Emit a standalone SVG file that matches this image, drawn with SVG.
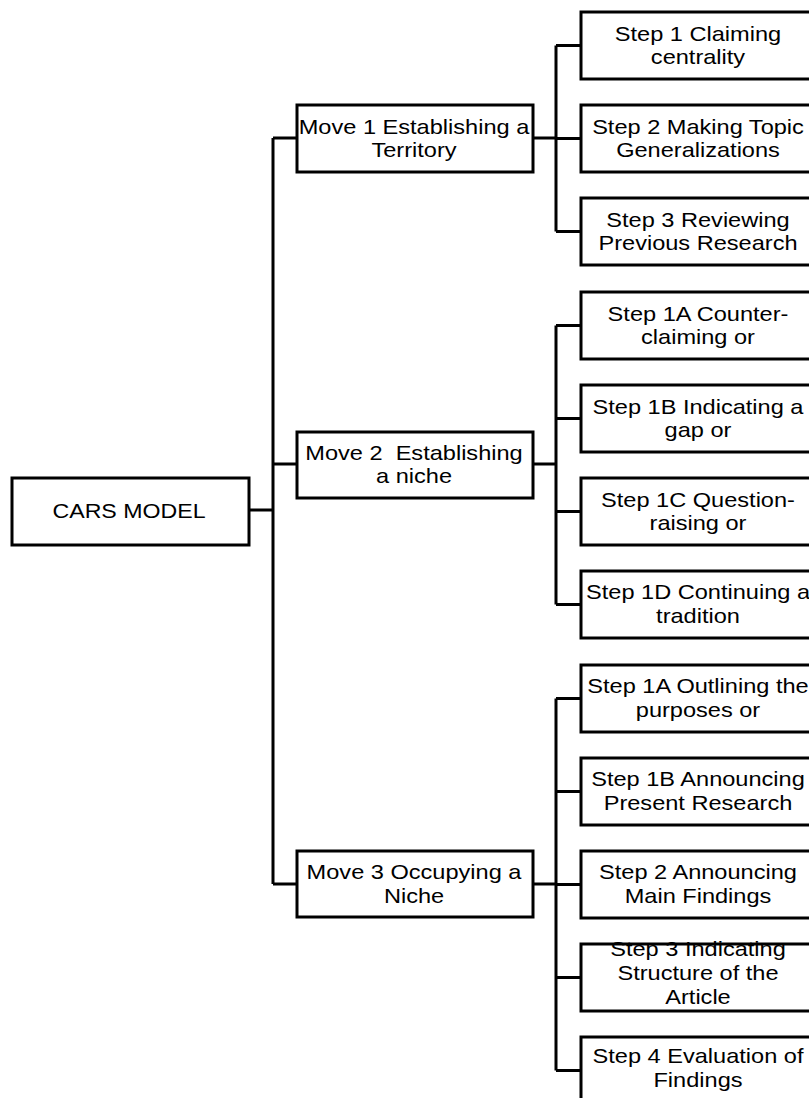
<svg xmlns="http://www.w3.org/2000/svg" width="809" height="1098" viewBox="0 0 809 1098">
<style>
.box{fill:#fff;stroke:#000;stroke-width:3}
.ln{fill:none;stroke:#000;stroke-width:3}
.t{font-family:"Liberation Sans",Arial,sans-serif;font-size:20.5px;fill:#000;text-anchor:middle}
</style>
<rect width="809" height="1098" fill="#fff"/>
<g id="connectors">
<path class="ln" d="M249 510H273M273 138V884M273 138H297M273 464H297M273 884H297"/>
<path class="ln" d="M533 138H556M556 45.5V231.5M556 45.5H581M556 138.5H581M556 231.5H581"/>
<path class="ln" d="M533 464H556M556 325.5V604.5M556 325.5H581M556 418.5H581M556 511.5H581M556 604.5H581"/>
<path class="ln" d="M533 884H556M556 698.5V1070.5M556 698.5H581M556 791.5H581M556 884.5H581M556 977.5H581M556 1070.5H581"/>
</g>
<g id="cars"><rect class="box" x="12" y="478" width="237" height="67"/>
<text class="t" transform="translate(129,0) scale(1.13,1)"><tspan x="0" y="518">CARS MODEL</tspan></text></g>
<g id="move1"><rect class="box" x="297" y="105" width="236" height="67"/>
<text class="t" transform="translate(414,0) scale(1.15,1)"><tspan x="0" y="134">Move 1 Establishing a</tspan><tspan x="0" y="157.5">Territory</tspan></text></g>
<g id="move2"><rect class="box" x="297" y="432" width="236" height="66"/>
<text class="t" transform="translate(414,0) scale(1.15,1)"><tspan x="0" y="460" xml:space="preserve">Move 2  Establishing</tspan><tspan x="0" y="483.5">a niche</tspan></text></g>
<g id="move3"><rect class="box" x="297" y="851" width="236" height="66"/>
<text class="t" transform="translate(414,0) scale(1.15,1)"><tspan x="0" y="879.5">Move 3 Occupying a</tspan><tspan x="0" y="903">Niche</tspan></text></g>
<g id="m1s1"><rect class="box" x="581" y="12" width="236" height="67"/>
<text class="t" transform="translate(698,0) scale(1.15,1)"><tspan x="0" y="41">Step 1 Claiming</tspan><tspan x="0" y="64">centrality</tspan></text></g>
<g id="m1s2"><rect class="box" x="581" y="105" width="236" height="67"/>
<text class="t" transform="translate(698,0) scale(1.15,1)"><tspan x="0" y="134">Step 2 Making Topic</tspan><tspan x="0" y="157">Generalizations</tspan></text></g>
<g id="m1s3"><rect class="box" x="581" y="198" width="236" height="67"/>
<text class="t" transform="translate(698,0) scale(1.15,1)"><tspan x="0" y="227">Step 3 Reviewing</tspan><tspan x="0" y="250">Previous Research</tspan></text></g>
<g id="m2s1a"><rect class="box" x="581" y="292" width="236" height="67"/>
<text class="t" transform="translate(698,0) scale(1.15,1)"><tspan x="0" y="321">Step 1A Counter-</tspan><tspan x="0" y="344">claiming or</tspan></text></g>
<g id="m2s1b"><rect class="box" x="581" y="385" width="236" height="67"/>
<text class="t" transform="translate(698,0) scale(1.15,1)"><tspan x="0" y="414">Step 1B Indicating a</tspan><tspan x="0" y="437">gap or</tspan></text></g>
<g id="m2s1c"><rect class="box" x="581" y="478" width="236" height="67"/>
<text class="t" transform="translate(698,0) scale(1.15,1)"><tspan x="0" y="507">Step 1C Question-</tspan><tspan x="0" y="530">raising or</tspan></text></g>
<g id="m2s1d"><rect class="box" x="581" y="571" width="236" height="67"/>
<text class="t" transform="translate(698,0) scale(1.15,1)"><tspan x="0" y="599.5">Step 1D Continuing a</tspan><tspan x="0" y="623">tradition</tspan></text></g>
<g id="m3s1a"><rect class="box" x="581" y="665" width="236" height="67"/>
<text class="t" transform="translate(698,0) scale(1.15,1)"><tspan x="0" y="693.5">Step 1A Outlining the</tspan><tspan x="0" y="717">purposes or</tspan></text></g>
<g id="m3s1b"><rect class="box" x="581" y="758" width="236" height="67"/>
<text class="t" transform="translate(698,0) scale(1.15,1)"><tspan x="0" y="786.5">Step 1B Announcing</tspan><tspan x="0" y="810">Present Research</tspan></text></g>
<g id="m3s2"><rect class="box" x="581" y="851" width="236" height="67"/>
<text class="t" transform="translate(698,0) scale(1.15,1)"><tspan x="0" y="879.5">Step 2 Announcing</tspan><tspan x="0" y="903">Main Findings</tspan></text></g>
<g id="m3s3"><rect class="box" x="581" y="944" width="236" height="67"/>
<text class="t" transform="translate(698,0) scale(1.15,1)"><tspan x="0" y="956">Step 3 Indicating</tspan><tspan x="0" y="980">Structure of the</tspan><tspan x="0" y="1004">Article</tspan></text></g>
<g id="m3s4"><rect class="box" x="581" y="1037" width="236" height="67"/>
<text class="t" transform="translate(698,0) scale(1.15,1)"><tspan x="0" y="1063">Step 4 Evaluation of</tspan><tspan x="0" y="1087">Findings</tspan></text></g>
</svg>
